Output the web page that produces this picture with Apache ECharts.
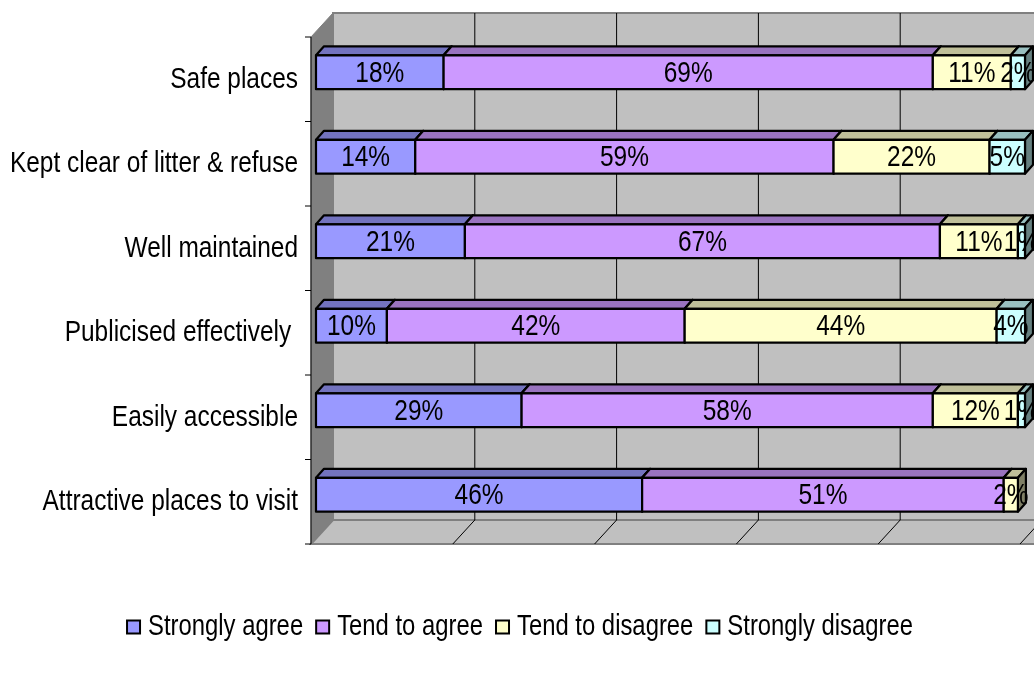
<!DOCTYPE html>
<html>
<head>
<meta charset="utf-8">
<script src="https://cdn.jsdelivr.net/npm/echarts@6/dist/echarts.min.js"></script>
<style>
html,body{margin:0;padding:0;background:#fff;}
#chart{width:1034px;height:695px;}
</style>
</head>
<body>
<div id="chart"></div>
<script>
// ---- data ----
const categories = ['Safe places', 'Kept clear of litter & refuse', 'Well maintained', 'Publicised effectively ', 'Easily accessible', 'Attractive places to visit'];
const seriesNames = ['Strongly agree', 'Tend to agree', 'Tend to disagree', 'Strongly disagree'];
const stronglyAgree = [18, 14, 21, 10, 29, 46];
const tendToAgree = [69, 59, 67, 42, 58, 51];
const tendToDisagree = [11, 22, 11, 44, 12, 2];
const stronglyDisagree = [2, 5, 1, 4, 1, 0];
const xTicks = [0, 20, 40, 60, 80, 100];

// ---- styles ----
const FONT = "'Liberation Sans', Arial, sans-serif";
const FONT_SIZE = 30;
const NARROW = 0.815;              // horizontal text compression (narrow face)
const LEG_NARROW = 0.795;
const frontColors = ['#9999FF', '#CC99FF', '#FFFFCC', '#CCFFFF'];
const topColors = ['#7373BF', '#9973BF', '#BFBF99', '#99BFBF'];
const sideColors = ['#4D4D80', '#664D80', '#808066', '#668080'];
const BAR_DX = 8, BAR_DY = 9;      // bar depth
const BACK_DX = 17, BACK_DY = 17;  // front plane -> back wall
const AX_DX = -5, AX_DY = 7;       // front plane -> axis plane
const BAR_FRAC = 0.40;

const allValues = [stronglyAgree, tendToAgree, tendToDisagree, stronglyDisagree];

function narrowText(x, y, text, align, z2, sx) {
  return {
    type: 'text', x: x, y: y, scaleX: sx || NARROW, z2: z2 || 10,
    style: { text: text, x: 0, y: 0, align: align, verticalAlign: 'middle', fill: '#000',
      font: FONT_SIZE + 'px ' + FONT }
  };
}

function barRender(sIdx) {
  return function (params, api) {
    const start = api.value(0), val = api.value(1), cat = api.value(2);
    if (!(val > 0)) return null;
    const p0 = api.coord([start, cat]);
    const p1 = api.coord([start + val, cat]);
    const h = api.size([0, 1])[1] * BAR_FRAC;
    const x0 = p0[0], x1 = p1[0];
    const yT = p0[1] - h / 2, yB = p0[1] + h / 2;
    const stroke = { stroke: '#000', lineWidth: 2.2, lineJoin: 'round' };
    return {
      type: 'group',
      children: [
        { type: 'polygon', shape: { points: [[x0, yT], [x0 + BAR_DX, yT - BAR_DY], [x1 + BAR_DX, yT - BAR_DY], [x1, yT]] },
          style: Object.assign({ fill: topColors[sIdx] }, stroke) },
        { type: 'polygon', shape: { points: [[x1, yT], [x1 + BAR_DX, yT - BAR_DY], [x1 + BAR_DX, yB - BAR_DY], [x1, yB]] },
          style: Object.assign({ fill: sideColors[sIdx] }, stroke) },
        { type: 'rect', shape: { x: x0, y: yT, width: x1 - x0, height: h },
          style: Object.assign({ fill: frontColors[sIdx] }, stroke) },
        narrowText((x0 + x1) / 2, (yT + yB) / 2 + 1, val + '%', 'center', 10)
      ]
    };
  };
}

function frameRender(params, api) {
  const cs = params.coordSys;
  const left = cs.x, top = cs.y, bottom = cs.y + cs.height;
  const xR = api.coord([xTicks[xTicks.length - 1], 0])[0];
  const bL = left + BACK_DX, bR = xR + BACK_DX, bT = top - BACK_DY, bB = bottom - BACK_DY;
  const aL = left + AX_DX, aT = top + AX_DY, aB = bottom + AX_DY;
  const aR = xR + AX_DX;
  const children = [];
  children.push({ type: 'rect', shape: { x: bL, y: bT, width: bR - bL + 20, height: bB - bT },
    style: { fill: '#C0C0C0', stroke: '#808080', lineWidth: 2 } });
  children.push({ type: 'polygon', shape: { points: [[aL, aT], [bL, bT], [bL, bB], [aL, aB]] },
    style: { fill: '#808080', stroke: '#808080', lineWidth: 1 } });
  children.push({ type: 'polygon', shape: { points: [[aL, aB], [bL, bB], [bR + 20, bB], [aR + 20, aB]] },
    style: { fill: '#C0C0C0', stroke: '#808080', lineWidth: 2 } });
  xTicks.forEach(function (t) {
    if (t === xTicks[0]) return;
    const xf = api.coord([t, 0])[0];
    const xb = xf + BACK_DX, xa = xf + AX_DX;
    children.push({ type: 'line', shape: { x1: xb, y1: bT, x2: xb, y2: bB }, style: { stroke: '#000', lineWidth: 1 } });
    children.push({ type: 'line', shape: { x1: xb, y1: bB, x2: xa, y2: aB }, style: { stroke: '#000', lineWidth: 1 } });
  });
  children.push({ type: 'line', shape: { x1: aL, y1: aT, x2: aL, y2: aB }, style: { stroke: '#000', lineWidth: 1 } });
  const band = cs.height / categories.length;
  for (let i = 0; i <= categories.length; i++) {
    const y = aT + band * i;
    children.push({ type: 'line', shape: { x1: aL - 6, y1: y, x2: aL, y2: y }, style: { stroke: '#000', lineWidth: 1 } });
  }
  // category labels (from the category axis scale)
  categories.forEach(function (c, i) {
    const p = api.coord([0, i]);
    children.push(narrowText(p[0] - 18, p[1] + 7, c, 'right', 20));
  });
  return { type: 'group', children: children };
}

const series = [{
  type: 'custom', name: 'frame', z: 1, silent: true,
  renderItem: frameRender, data: [[0, 0]], encode: { x: 0, y: 1 }
}];
allValues.forEach(function (vals, s) {
  const data = vals.map(function (v, i) {
    let start = 0;
    for (let k = 0; k < s; k++) start += allValues[k][i];
    return [start, v, i];
  });
  series.push({
    type: 'custom', name: seriesNames[s], z: 2 + s,
    itemStyle: { color: frontColors[s], borderColor: '#000', borderWidth: 2 },
    renderItem: barRender(s), data: data, encode: { x: [0, 1], y: 2 }
  });
});

// ---- legend (drawn as graphic text with narrow scaling) ----
const mctx = document.createElement('canvas').getContext('2d');
mctx.font = FONT_SIZE + 'px ' + FONT;
const MARK = 13, MARK_GAP = 8, ITEM_GAP = 13, LEG_Y = 627;
const widths = seriesNames.map(function (n) { return mctx.measureText(n).width * LEG_NARROW; });
let total = 0;
widths.forEach(function (w) { total += MARK + MARK_GAP + w; });
total += ITEM_GAP * (seriesNames.length - 1);
let lx = (1034 - total) / 2 + 3;
const legendChildren = [];
seriesNames.forEach(function (n, i) {
  legendChildren.push({ type: 'rect', shape: { x: lx, y: LEG_Y - MARK / 2, width: MARK, height: MARK },
    style: { fill: frontColors[i], stroke: '#000', lineWidth: 2 } });
  legendChildren.push({ type: 'text', x: lx + MARK + MARK_GAP, y: LEG_Y, scaleX: LEG_NARROW,
    style: { text: n, x: 0, y: 0, align: 'left', verticalAlign: 'middle', fill: '#000', font: FONT_SIZE + 'px ' + FONT } });
  lx += MARK + MARK_GAP + widths[i] + ITEM_GAP;
});

const chart = echarts.init(document.getElementById('chart'), null, { renderer: 'canvas' });
chart.setOption({
  animation: false,
  backgroundColor: '#fff',
  grid: { left: 316, right: 9, top: 30, bottom: 158, containLabel: false, outerBoundsMode: 'none' },
  xAxis: { type: 'value', min: 0, max: 100, interval: 20, show: false },
  yAxis: {
    type: 'category', data: categories, inverse: true,
    axisLine: { show: false }, axisTick: { show: false }, splitLine: { show: false },
    axisLabel: { show: false }
  },
  graphic: [{ type: 'group', children: legendChildren }],
  series: series
});
</script>
</body>
</html>
